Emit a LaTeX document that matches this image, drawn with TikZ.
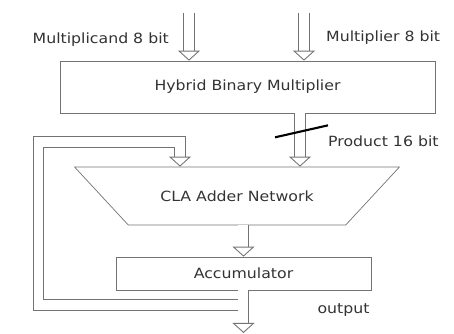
\documentclass[tikz,border=0pt]{standalone}
\usepackage{fontspec}
\newfontfamily\diagfont{DejaVu Sans}[FakeStretch=1.12]
\usetikzlibrary{shapes.geometric, positioning, arrows.meta}

\tikzset{
    block/.style={
        rectangle, minimum width=7.5cm, minimum height=1.04cm, text centered, draw=black!55
    },
    adder/.style={
        trapezium, trapezium angle=29, trapezium stretches=true, shape border rotate=180, minimum width=6.5cm, minimum height=1.16cm, text centered, draw=black!55
    },
    bus/.style={
        draw=black!55, line width=0.5pt, double=white, double distance=0.2cm, -{Triangle[open, width=0.44cm, length=0.2cm]}
    },
    lbl/.style={
        text=black!80
    },
    slash/.style={
        line width=1.2pt, black
    }
}

\begin{document}
\begin{tikzpicture}[node distance=2cm, every node/.style={font=\diagfont\fontsize{8}{9}\selectfont, text=black!80, align=center}]
    \useasboundingbox (0,0) rectangle (9.08,6.68);

    % Nodes
    \node (hbm) [block] at (4.95,4.94) {Hybrid Binary Multiplier};
    \node (cla) [adder, below of=hbm, xshift=-0.21cm, yshift=-0.18cm] {CLA Adder Network};
    \node (acc) [block, minimum width=5.1cm, minimum height=0.66cm, below of=cla, xshift=0.13cm, yshift=0.45cm] {Accumulator};

    % Bus ends
    \coordinate (mcand) at (3.78,6.42);
    \coordinate (mplier) at (6.08,6.42);
    \coordinate (prod) at ([xshift=1.05cm]hbm.south);
    \coordinate (bottom) at (0,0.02);
    \coordinate (fbjoin) at (acc.south |- 0,0.58);
    \coordinate (fbleft) at (0.77,3.84);
    \coordinate (fbin) at (3.6,3.84);

    % Labels
    \node (mcandlbl) [lbl, anchor=east] at (3.5,5.88) {Multiplicand 8 bit};
    \node (mplierlbl) [lbl, anchor=west] at (6.4,5.92) {Multiplier 8 bit};
    \node (prodlbl) [lbl, anchor=west] at (6.44,3.86) {Product 16 bit};
    \node (outlbl) [lbl] at (6.87,0.48) {output};

    % Connections
    \draw [bus] (mcand) -- (mcand |- hbm.north);
    \draw [bus] (mplier) -- (mplier |- hbm.north);
    \draw [bus] (prod) -- (prod |- cla.north);
    \draw [bus] (acc.north |- cla.south) -- (acc.north);
    \draw [bus] (acc.south) -- (acc.south |- bottom);
    \draw [bus] (fbjoin) -| (fbleft) -| (fbin |- cla.north);
    % clean the joint of the feedback with the output bus
    \draw [white, line width=0.2cm] (acc.south) -- ([yshift=0.25cm]acc.south |- bottom);
    \draw [slash] ([shift={(-0.5,-0.48)}]prod) -- ([shift={(0.56,-0.24)}]prod);
\end{tikzpicture}
\end{document}
